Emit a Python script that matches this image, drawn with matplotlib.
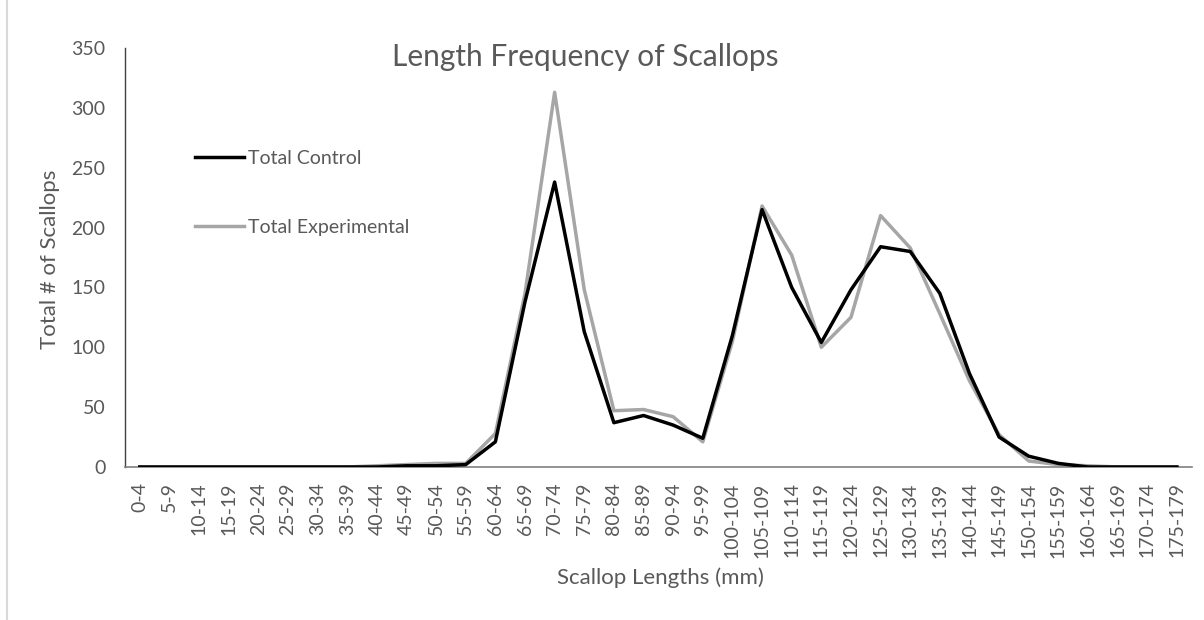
import matplotlib.pyplot as plt
from matplotlib.lines import Line2D

plt.rcParams['font.family'] = ['Lato', 'DejaVu Sans']

length_bins = ['0-4', '5-9', '10-14', '15-19', '20-24', '25-29', '30-34', '35-39',
               '40-44', '45-49', '50-54', '55-59', '60-64', '65-69', '70-74', '75-79',
               '80-84', '85-89', '90-94', '95-99', '100-104', '105-109', '110-114',
               '115-119', '120-124', '125-129', '130-134', '135-139', '140-144',
               '145-149', '150-154', '155-159', '160-164', '165-169', '170-174',
               '175-179']

total_control = [0, 0, 0, 0, 0, 0, 0, 0, 0, 1, 1, 2, 21, 138, 238, 113,
                 37, 43, 35, 24, 110, 215, 150, 104, 148, 184, 180, 145, 78,
                 25, 9, 3, 0, 0, 0, 0]
total_experimental = [0, 0, 0, 0, 0, 0, 0, 0, 1, 2, 3, 3, 28, 145, 313, 148,
                      47, 48, 42, 21, 105, 218, 177, 100, 125, 210, 183, 128, 72,
                      27, 5, 2, 1, 0, 0, 0]

text_grey = '#595959'

fig = plt.figure(figsize=(12.04, 6.2), dpi=100)
ax = fig.add_axes([0.1038, 0.2468, 0.886, 0.6758])

x = range(len(length_bins))
ax.plot(x, total_control, color='black', lw=2.5, label='Total Control', zorder=3)
ax.plot(x, total_experimental, color='#a6a6a6', lw=2.5, label='Total Experimental', zorder=2)

ax.set_xlim(-0.5, len(length_bins) - 0.5)
ax.set_ylim(0, 350)
ax.set_yticks(range(0, 351, 50))
ax.set_xticks(list(x))
ax.set_xticklabels(length_bins, rotation=90)
ax.tick_params(axis='both', length=0, labelsize=14, labelcolor=text_grey)
ax.tick_params(axis='y', pad=14)
ax.tick_params(axis='x', pad=11)

for side in ['top', 'right']:
    ax.spines[side].set_visible(False)
ax.spines['left'].set_color('#404040')
ax.spines['bottom'].set_color('#808080')
ax.spines['left'].set_linewidth(1)
ax.spines['bottom'].set_linewidth(1.2)

# titles placed in figure coordinates, as in the original layout
fig.text(585 / 1204, 1 - 57 / 620, 'Length Frequency of Scallops', fontsize=21.5,
         color=text_grey, ha='center', va='center')
fig.text(660 / 1204, 1 - 578 / 620, 'Scallop Lengths (mm)', fontsize=16,
         color=text_grey, ha='center', va='center')
fig.text(50 / 1204, 1 - 259 / 620, 'Total # of Scallops', fontsize=16,
         color=text_grey, ha='center', va='center', rotation=90)

ax.legend(loc='upper left', bbox_to_anchor=(195 / 1204, 1 - 150 / 620),
          bbox_transform=fig.transFigure, frameon=False, borderpad=0,
          borderaxespad=0, fontsize=14, labelcolor=text_grey, handlelength=2.5,
          handletextpad=0.2, labelspacing=2.65)

# thin grey frame line at the left edge of the picture
fig.add_artist(Line2D([0.006, 0.006], [0.0, 1.0], color='#d9d9d9', lw=1.5,
                      transform=fig.transFigure))

plt.savefig('out.png', dpi=100)
